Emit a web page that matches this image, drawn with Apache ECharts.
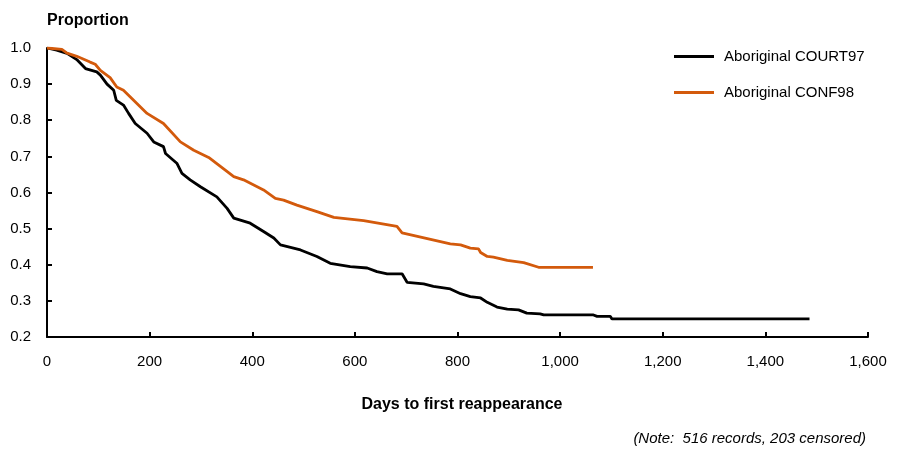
<!DOCTYPE html>
<html>
<head>
<meta charset="utf-8">
<script src="https://cdn.jsdelivr.net/npm/echarts@6/dist/echarts.min.js"></script>
<style>
html,body{margin:0;padding:0;background:#fff;}
#chart{width:904px;height:450px;}
</style>
</head>
<body>
<div id="chart"></div>
<script>
const seriesNames = ['Aboriginal COURT97', 'Aboriginal CONF98'];
const court97Days = [0,19,39,58,75,97,104,117,130,135,149,159,172,195,208,227,231,253,263,279,299,331,351,364,396,422,442,455,494,526,552,591,624,643,663,692,702,734,753,786,806,825,845,858,877,897,919,935,961,968,1065,1072,1098,1101,1486];
const court97Prop = [1.0,0.994,0.985,0.968,0.943,0.934,0.925,0.90,0.883,0.855,0.842,0.819,0.791,0.764,0.74,0.727,0.708,0.681,0.653,0.635,0.616,0.588,0.556,0.529,0.515,0.492,0.474,0.455,0.441,0.423,0.404,0.395,0.391,0.381,0.375,0.375,0.351,0.347,0.340,0.333,0.320,0.312,0.308,0.296,0.283,0.277,0.275,0.266,0.264,0.261,0.261,0.257,0.257,0.25,0.25];
const conf98Days = [0,29,39,58,84,94,104,123,136,149,195,227,260,286,315,364,383,422,445,461,487,526,559,617,682,692,786,806,825,841,845,858,870,897,929,958,1064];
const conf98Prop = [1.0,0.996,0.986,0.977,0.961,0.955,0.938,0.918,0.892,0.883,0.819,0.791,0.740,0.717,0.697,0.644,0.635,0.607,0.584,0.579,0.565,0.547,0.531,0.522,0.506,0.488,0.458,0.455,0.446,0.444,0.434,0.423,0.421,0.412,0.406,0.393,0.393];
const xTicks = {min: 0, max: 1600, interval: 200};
const yTicks = {min: 0.2, max: 1.0, interval: 0.1};
const titleText = 'Proportion';
const xAxisTitle = 'Days to first reappearance';
const noteText = '(Note:  516 records, 203 censored)';

const FONT = 'Liberation Sans, Arial, sans-serif';
const pair = (xs, ys) => xs.map((x, i) => [x, ys[i]]);

const chart = echarts.init(document.getElementById('chart'), null, {renderer: 'canvas'});
chart.setOption({
  animation: false,
  backgroundColor: '#fff',
  grid: {left: 47, right: 36, top: 48, bottom: 113, containLabel: false},
  title: [
    {text: titleText, left: 47, top: 13, padding: 0, textStyle: {fontFamily: FONT, fontSize: 16, fontWeight: 'bold', color: '#000'}},
    {text: xAxisTitle, left: 457, textAlign: 'center', top: 392, textStyle: {fontFamily: FONT, fontSize: 16, fontWeight: 'bold', color: '#000'}},
    {text: noteText, right: 33, top: 426, textStyle: {fontFamily: FONT, fontSize: 15, fontStyle: 'italic', fontWeight: 'normal', color: '#000'}}
  ],
  legend: {
    orient: 'vertical',
    left: 669,
    top: 43,
    itemWidth: 40,
    itemHeight: 3,
    itemGap: 19,
    icon: 'rect',
    data: seriesNames,
    textStyle: {fontFamily: FONT, fontSize: 15, color: '#000', padding: [0, 0, 0, 5], lineHeight: 17}
  },
  xAxis: {
    type: 'value',
    min: xTicks.min, max: xTicks.max, interval: xTicks.interval,
    axisLine: {show: true, lineStyle: {color: '#000', width: 2}},
    axisTick: {show: true, inside: true, length: 5, lineStyle: {color: '#000', width: 2}},
    axisLabel: {fontFamily: FONT, fontSize: 15, color: '#000', margin: 17,
      formatter: v => Number(v).toLocaleString('en-US')},
    splitLine: {show: false}
  },
  yAxis: {
    type: 'value',
    min: yTicks.min, max: yTicks.max, interval: yTicks.interval,
    axisLine: {show: true, lineStyle: {color: '#000', width: 2}},
    axisTick: {show: true, inside: true, length: 5, lineStyle: {color: '#000', width: 2}},
    axisLabel: {fontFamily: FONT, fontSize: 15, color: '#000', margin: 16,
      formatter: v => Number(v).toFixed(1)},
    splitLine: {show: false}
  },
  series: [
    {name: seriesNames[0], type: 'line', data: pair(court97Days, court97Prop), showSymbol: false, symbol: 'none',
      lineStyle: {color: '#000', width: 2.8}, itemStyle: {color: '#000'}},
    {name: seriesNames[1], type: 'line', data: pair(conf98Days, conf98Prop), showSymbol: false, symbol: 'none',
      lineStyle: {color: '#D35A0C', width: 2.8}, itemStyle: {color: '#D35A0C'}}
  ]
});
</script>
</body>
</html>
